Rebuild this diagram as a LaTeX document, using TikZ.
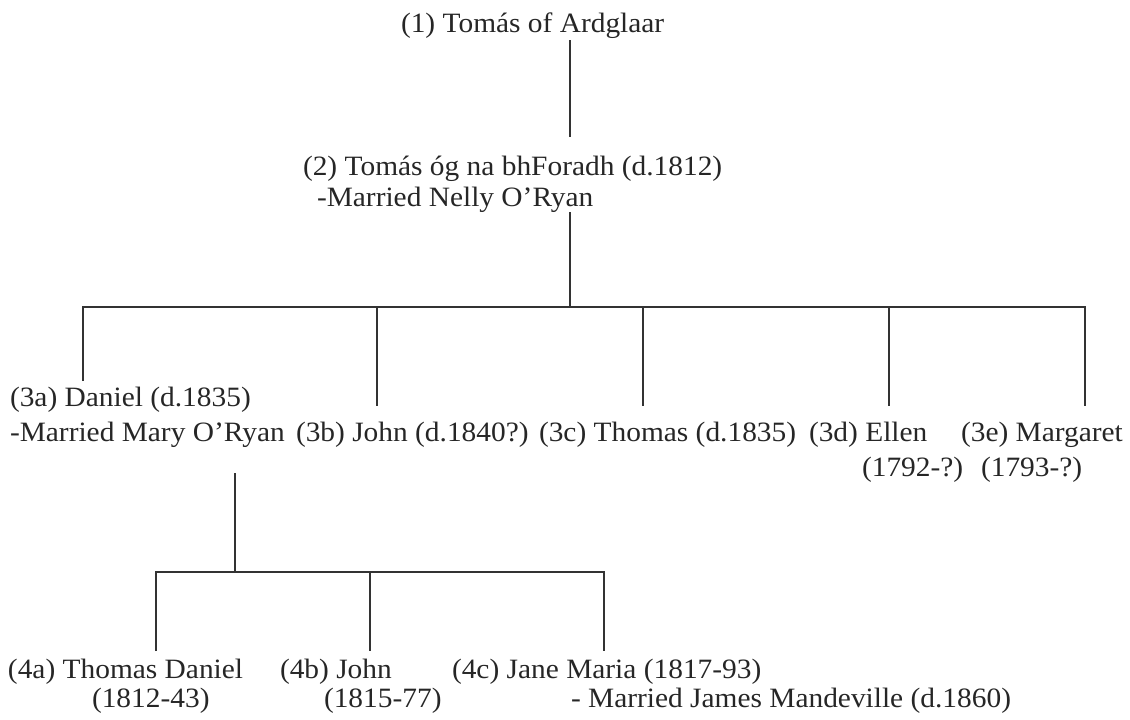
\documentclass[tikz,border=0pt]{standalone}
\usepackage{fontspec}
\setmainfont{Liberation Serif}[FakeStretch=1.05]
\begin{document}
\begin{tikzpicture}[x=1pt,y=-1pt,
  lbl/.style={anchor=base west,inner sep=0pt,outer sep=0pt,text=black!85,
    font=\fontsize{28}{30}\selectfont},
  conn/.style={draw=black!80,line width=1.3pt}]
\useasboundingbox (0,0) rectangle (1130,720);
% generation 1 and 2
\node[lbl] (n1) at (401,32) {(1) Tomás of Ardglaar};
\node[lbl] (n2) at (303,175) {(2) Tomás óg na bhForadh (d.1812)};
\node[lbl] (n2m) at (317,206) {-Married Nelly O’Ryan};
% generation 3
\node[lbl] (n3a) at (10,406) {(3a) Daniel (d.1835)};
\node[lbl] (n3am) at (10,441) {-Married Mary O’Ryan};
\node[lbl] (n3b) at (296,441) {(3b) John (d.1840?)};
\node[lbl] (n3c) at (539,441) {(3c) Thomas (d.1835)};
\node[lbl] (n3d) at (809,441) {(3d) Ellen};
\node[lbl] (n3dd) at (862,476) {(1792-?)};
\node[lbl] (n3e) at (961,441) {(3e) Margaret};
\node[lbl] (n3ed) at (981,476) {(1793-?)};
% generation 4
\node[lbl] (n4a) at (8,678) {(4a) Thomas Daniel};
\node[lbl] (n4ad) at (92,707) {(1812-43)};
\node[lbl] (n4b) at (280,678) {(4b) John};
\node[lbl] (n4bd) at (324,707) {(1815-77)};
\node[lbl] (n4c) at (452,678) {(4c) Jane Maria (1817-93)};
\node[lbl] (n4cm) at (571,707) {- Married James Mandeville (d.1860)};
% junction coordinates
\coordinate (t1) at (570,40);
\coordinate (t2) at (570,137);
\coordinate (u1) at (570,212);
\coordinate (bus) at (570,307);
\coordinate (d3a) at (83,381);
\coordinate (d3b) at (377,406);
\coordinate (d3c) at (643,406);
\coordinate (d3d) at (889,406);
\coordinate (d3e) at (1085,406);
\coordinate (v1) at (235,473);
\coordinate (bus2) at (235,572);
\coordinate (d4a) at (156,651);
\coordinate (d4b) at (370,651);
\coordinate (d4c) at (604,651);
% connectors
\draw[conn] (t1) -- (t2);
\draw[conn] (u1) -- (bus);
\draw[conn] (d3a) -- (d3a |- bus) -- (d3e |- bus) -- (d3e);
\draw[conn] (d3b |- bus) -- (d3b);
\draw[conn] (d3c |- bus) -- (d3c);
\draw[conn] (d3d |- bus) -- (d3d);
\draw[conn] (v1) -- (bus2);
\draw[conn] (d4a) -- (d4a |- bus2) -- (d4c |- bus2) -- (d4c);
\draw[conn] (d4b |- bus2) -- (d4b);
\end{tikzpicture}
\end{document}
